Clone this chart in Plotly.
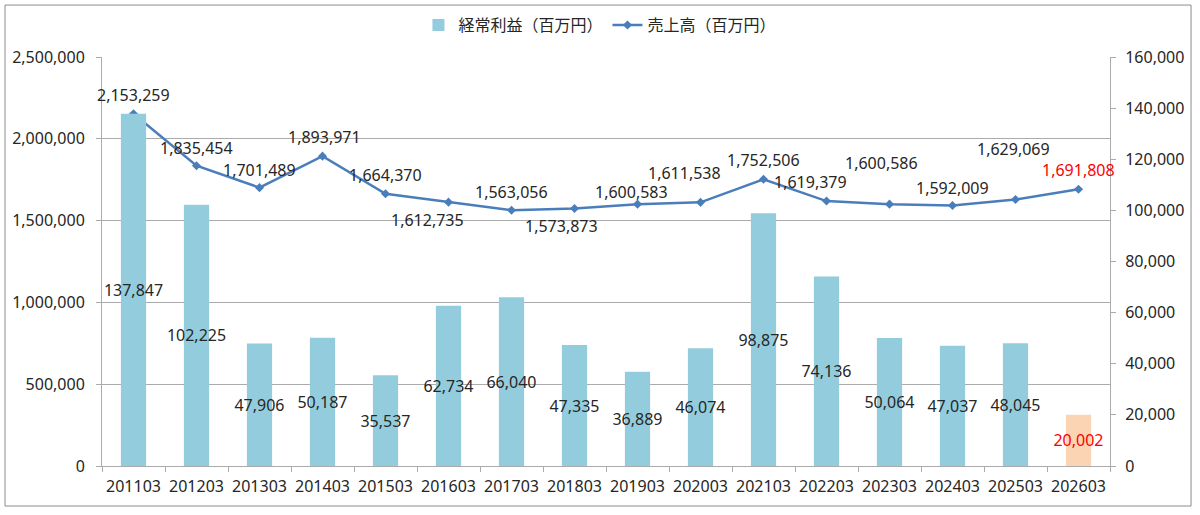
import plotly.graph_objects as go

periods = ["201103", "201203", "201303", "201403", "201503", "201603", "201703", "201803",
           "201903", "202003", "202103", "202203", "202303", "202403", "202503", "202603"]
ordinary_profit = [137847, 102225, 47906, 50187, 35537, 62734, 66040, 47335,
                   36889, 46074, 98875, 74136, 50064, 47037, 48045, 20002]
sales = [2153259, 1835454, 1701489, 1893971, 1664370, 1612735, 1563056, 1573873,
         1600583, 1611538, 1752506, 1619379, 1600586, 1592009, 1629069, 1691808]

# label offsets (pixels) for the sales line labels
sales_label_dx = [0, 0, 0, 2, 0, -21, 0, -13, -6, -16, 0, -16, -8, 0, -2, 0]
sales_label_dy = [19, 18, 18, 19, 19, -18, 18, -17, 12, 29, 19, 19, 41, 18, 50, 19]

FONT = "Noto Sans, Noto Sans CJK JP, sans-serif"
TXT = "#262626"
BAR = "#93CDDD"
BAR_FC = "#FBD4B4"
LINE = "#4A7EBB"
GRID = "#ABABAB"
FS = 16

n = len(periods)
bar_colors = [BAR] * (n - 1) + [BAR_FC]
bar_text_colors = [TXT] * (n - 1) + ["#FF0000"]

fig = go.Figure()
fig.add_trace(go.Bar(
    x=periods, y=ordinary_profit, yaxis="y2", name="経常利益（百万円）",
    marker=dict(color=bar_colors, line=dict(width=0)),
    text=[f"{v:,}" for v in ordinary_profit], textposition="inside",
    insidetextanchor="middle", textangle=0, constraintext="none",
    insidetextfont=dict(family=FONT, size=FS, color=bar_text_colors),
    cliponaxis=False,
))
fig.add_trace(go.Scatter(
    x=periods, y=sales, yaxis="y", name="売上高（百万円）", mode="lines+markers",
    line=dict(color=LINE, width=2.5),
    marker=dict(symbol="diamond", size=7, color=LINE),
))

for i, v in enumerate(sales):
    fig.add_annotation(
        x=i, y=v, xref="x", yref="y", text=f"{v:,}", showarrow=False,
        xshift=sales_label_dx[i], yshift=sales_label_dy[i],
        font=dict(family=FONT, size=FS, color="#FF0000" if i == n - 1 else TXT),
    )

# outer chart border
fig.add_shape(type="rect", xref="paper", yref="paper",
              x0=-0.0962, x1=1.0804, y0=-0.0978, y1=1.127,
              line=dict(color="#8C8C8C", width=1), layer="below")

fig.update_layout(
    width=1200, height=515,
    margin=dict(l=102, r=90, t=57, b=49, autoexpand=False),
    paper_bgcolor="white", plot_bgcolor="white",
    font=dict(family=FONT, size=FS, color=TXT),
    bargap=0.6,
    showlegend=True,
    legend=dict(orientation="h", x=0.494, xanchor="center", y=1.078, yanchor="middle",
                font=dict(family=FONT, size=FS, color=TXT), traceorder="normal",
                itemwidth=30, bgcolor="rgba(0,0,0,0)"),
    xaxis=dict(type="category", range=[-0.5, n - 0.5], showgrid=False, showline=True,
               linecolor=GRID, ticks="outside", tickson="boundaries", ticklen=5,
               tickcolor=GRID, tickfont=dict(size=FS), tickangle=0, zeroline=False,
               ticklabelstandoff=6),
    yaxis=dict(range=[0, 2500000], dtick=500000, tickformat=",", showgrid=True,
               gridcolor=GRID, gridwidth=1, showline=True, linecolor=GRID,
               ticks="outside", ticklen=5, tickcolor=GRID, zeroline=False,
               tickfont=dict(size=FS), ticklabelstandoff=8),
    yaxis2=dict(range=[0, 160000], dtick=20000, tickformat=",", overlaying="y",
                side="right", showgrid=False, showline=True, linecolor=GRID,
                ticks="outside", ticklen=5, tickcolor=GRID, zeroline=False,
                tickfont=dict(size=FS), ticklabelstandoff=6),
)

fig.write_html("out.html")
